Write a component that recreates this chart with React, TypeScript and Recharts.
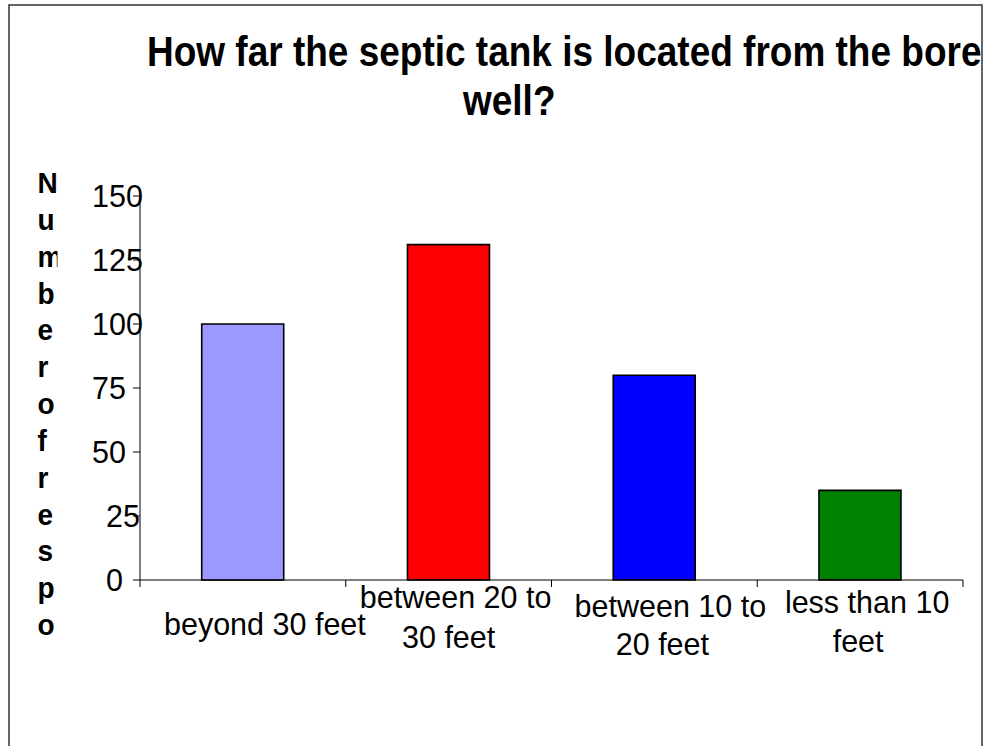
import React from 'react';
import { BarChart, Bar, XAxis, YAxis, Cell } from 'recharts';

// ---- data ----
const categories = ['beyond 30 feet', 'between 20 to 30 feet', 'between 10 to 20 feet', 'less than 10 feet'];
const categoryLines = [['beyond 30 feet'], ['between 20 to', '30 feet'], ['between 10 to', '20 feet'], ['less than 10', 'feet']];
const respondents = [100, 131, 80, 35];
const barColors = ['#9999FF', '#FF0000', '#0000FF', '#008000'];
const yTicks = [0, 25, 50, 75, 100, 125, 150];
const titleLines = ['How far the septic tank is located from the bore', 'well?'];
const yAxisTitle = 'Number of respondents';

const data = categories.map((c, i) => ({ name: c, value: respondents[i] }));

// ---- styling constants ----
const FONT = '"Liberation Sans", Arial, Helvetica, sans-serif';
const xLabelLayout = [
  { dx: [22], dy: [55] },
  { dx: [7, 0], dy: [28, 68] },
  { dx: [16, 8], dy: [37, 75] },
  { dx: [7, -2], dy: [33, 72] },
];
const yLabelDx: Record<number, number> = { 150: -41, 125: -41, 100: -41, 75: -41, 50: -41, 25: -27, 0: -27 };

const XTick = (props: any) => {
  const { x, y, index, payload, width } = props;
  const n = categories.length;
  let band = 205.75;
  if (payload && typeof payload.offset === 'number' && payload.offset > 0) band = payload.offset * 2;
  else if (typeof width === 'number' && width > 0) band = width / n;
  const lines = categoryLines[index] || [];
  const lay = xLabelLayout[index] || { dx: [], dy: [] };
  return (
    <g>
      <line x1={x - band / 2} x2={x - band / 2} y1={y} y2={y + 7} stroke="#000" strokeWidth={1} />
      {index === n - 1 && <line x1={x + band / 2} x2={x + band / 2} y1={y} y2={y + 7} stroke="#000" strokeWidth={1} />}
      {lines.map((ln, i) => (
        <text key={i} x={x + (lay.dx[i] || 0)} y={y + (lay.dy[i] || 0)} textAnchor="middle" fontFamily={FONT} fontSize={30.5} fill="#000">
          {ln}
        </text>
      ))}
    </g>
  );
};

const YTick = (props: any) => {
  const { x, y, payload } = props;
  const v = payload.value;
  return (
    <text x={x + (yLabelDx[v] ?? -41)} y={y} dy="0.36em" textAnchor="start" fontFamily={FONT} fontSize={30.5} fill="#000">
      {v}
    </text>
  );
};

const stretchY = (baseline: number, s: number) => `translate(0 ${baseline}) scale(1 ${s}) translate(0 ${-baseline})`;

export default function App() {
  const letters = yAxisTitle.replace(/\s+/g, '').split('');
  const visibleLetters = letters.filter((_, i) => 193 + i * 36.85 < 650);
  return (
    <div style={{ position: 'absolute', left: 0, top: 0, width: 988, height: 746, overflow: 'hidden', background: '#fff' }}>
      <div style={{ position: 'absolute', left: 0, top: 0 }}>
        <BarChart
          width={988}
          height={746}
          data={data}
          margin={{ top: 196, right: 25, bottom: 106, left: 80 }}
          barCategoryGap="30%"
        >
          <XAxis
            dataKey="name"
            height={60}
            axisLine={{ stroke: '#000', strokeWidth: 1 }}
            tickLine={false}
            tickSize={0}
            tickMargin={0}
            interval={0}
            tick={<XTick />}
          />
          <YAxis
            width={60}
            domain={[0, 150]}
            ticks={yTicks}
            interval={0}
            axisLine={{ stroke: '#000', strokeWidth: 1 }}
            tickLine={{ stroke: '#000', strokeWidth: 1 }}
            tickSize={7}
            tickMargin={0}
            tick={<YTick />}
          />
          <Bar dataKey="value" stroke="#000" strokeWidth={1.6} isAnimationActive={false}>
            {data.map((d, i) => (
              <Cell key={d.name} fill={barColors[i]} />
            ))}
          </Bar>
        </BarChart>
      </div>
      <svg width={988} height={746} style={{ position: 'absolute', left: 0, top: 0, pointerEvents: 'none' }}>
        <defs>
          <clipPath id="titleClip">
            <rect x={9} y={0} width={973} height={200} />
          </clipPath>
          <clipPath id="yTitleClip">
            <rect x={30} y={150} width={27.5} height={495} />
          </clipPath>
        </defs>
        <g clipPath="url(#titleClip)" fontFamily={FONT} fontWeight="bold" fontSize={37} fill="#000">
          <text x={147} y={66} transform={stretchY(66, 1.15)}>{titleLines[0]}</text>
          <text x={463} y={115} transform={stretchY(115, 1.15)}>{titleLines[1]}</text>
        </g>
        <g clipPath="url(#yTitleClip)" fontFamily={FONT} fontWeight="bold" fontSize={28} fill="#000">
          {visibleLetters.map((ch, i) => (
            <text key={i} x={37.5} y={193 + i * 36.85} transform={stretchY(193 + i * 36.85, 1.08)}>{ch}</text>
          ))}
        </g>
        <rect x={9} y={5} width={973} height={800} fill="none" stroke="#333" strokeWidth={1.5} />
      </svg>
    </div>
  );
}
